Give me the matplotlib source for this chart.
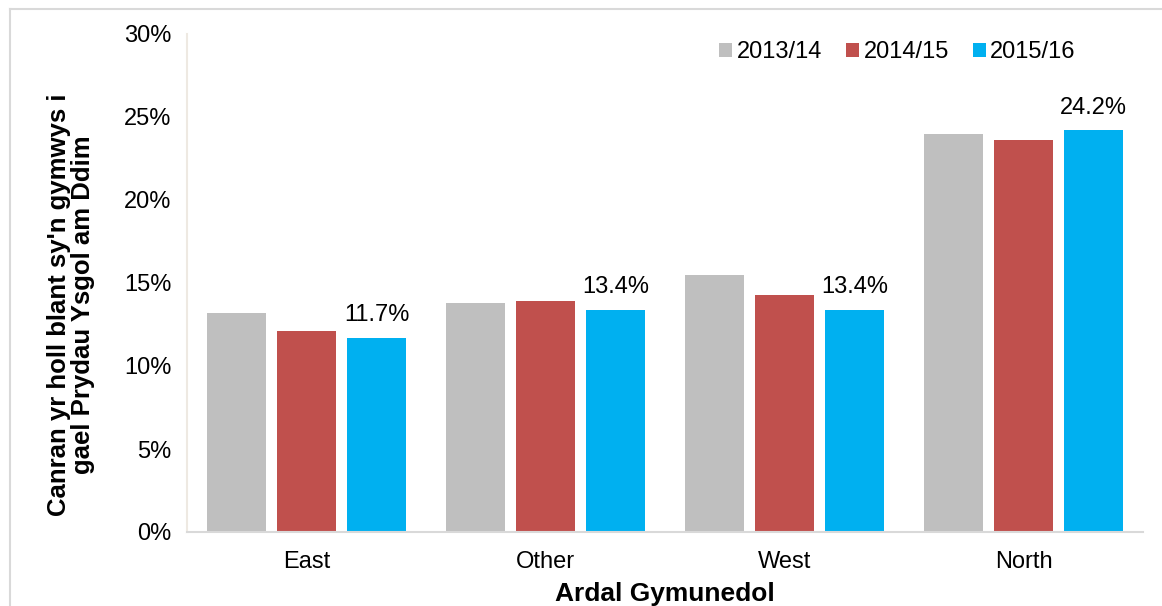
import matplotlib
matplotlib.use("Agg")
import matplotlib.pyplot as plt
import numpy as np
from matplotlib.lines import Line2D

plt.rcParams['font.family'] = ['Liberation Sans', 'DejaVu Sans']

categories = ["East", "Other", "West", "North"]
series_names = ["2013/14", "2014/15", "2015/16"]
v_2013 = [13.2, 13.8, 15.5, 24.0]
v_2014 = [12.1, 13.9, 14.3, 23.6]
v_2015 = [11.7, 13.4, 13.4, 24.2]
labels_2015 = ["11.7%", "13.4%", "13.4%", "24.2%"]
colors = ["#BFBFBF", "#C0504D", "#00B0F0"]

W, H = 1162, 606
fig = plt.figure(figsize=(W/100, H/100), dpi=100)
ax = fig.add_axes([187/W, 1 - 532/H, (1143 - 187)/W, (532 - 34)/H])

x = np.arange(len(categories))
w = 0.248
off = 0.294
for i, (vals, c, n) in enumerate(zip([v_2013, v_2014, v_2015], colors, series_names)):
    ax.bar(x + (i - 1) * off, vals, width=w, color=c, label=n, zorder=2)

for xi, v, lab in zip(x, v_2015, labels_2015):
    ax.text(xi + off, v + 0.7, lab, ha='center', va='bottom', fontsize=17, color='#000000')

ax.set_xlim(-0.5, 3.5)
ax.set_ylim(0, 30)
ax.set_yticks(np.arange(0, 31, 5))
ax.set_yticklabels([f"{t}%" for t in range(0, 31, 5)])
ax.set_xticks(x)
ax.set_xticklabels(categories)
ax.tick_params(axis='both', length=0, labelsize=17, colors='#000000')
ax.tick_params(axis='y', pad=11)
ax.tick_params(axis='x', pad=14)
for s in ['top', 'right']:
    ax.spines[s].set_visible(False)
ax.spines['left'].set_color('#EEE9E2')
ax.spines['left'].set_linewidth(1.5)
ax.spines['bottom'].set_color('#D9D9D9')
ax.spines['bottom'].set_linewidth(1.5)

ax.set_xlabel("Ardal Gymunedol", fontsize=19, fontweight='bold', labelpad=6.5)
fig.text(71/W, 1 - 305/H, "Canran yr holl blant sy'n gymwys i\ngael Prydau Ysgol am Ddim",
         fontsize=18.5, fontweight='bold', rotation=90, ha='center', va='center',
         multialignment='center', linespacing=1.0)

leg = ax.legend(loc='upper right', bbox_to_anchor=(0.952, 1.028), ncol=3, frameon=False,
                fontsize=17, handlelength=0.55, handleheight=0.55, handletextpad=0.2,
                columnspacing=1.0)

# outer frame lines
fig.add_artist(Line2D([10/W, 1], [1 - 9/H, 1 - 9/H], transform=fig.transFigure,
                      color='#D9D9D9', lw=1.5))
fig.add_artist(Line2D([10/W, 10/W], [0, 1 - 9/H], transform=fig.transFigure,
                      color='#D9D9D9', lw=1.5))

fig.savefig("out.png", dpi=100)
